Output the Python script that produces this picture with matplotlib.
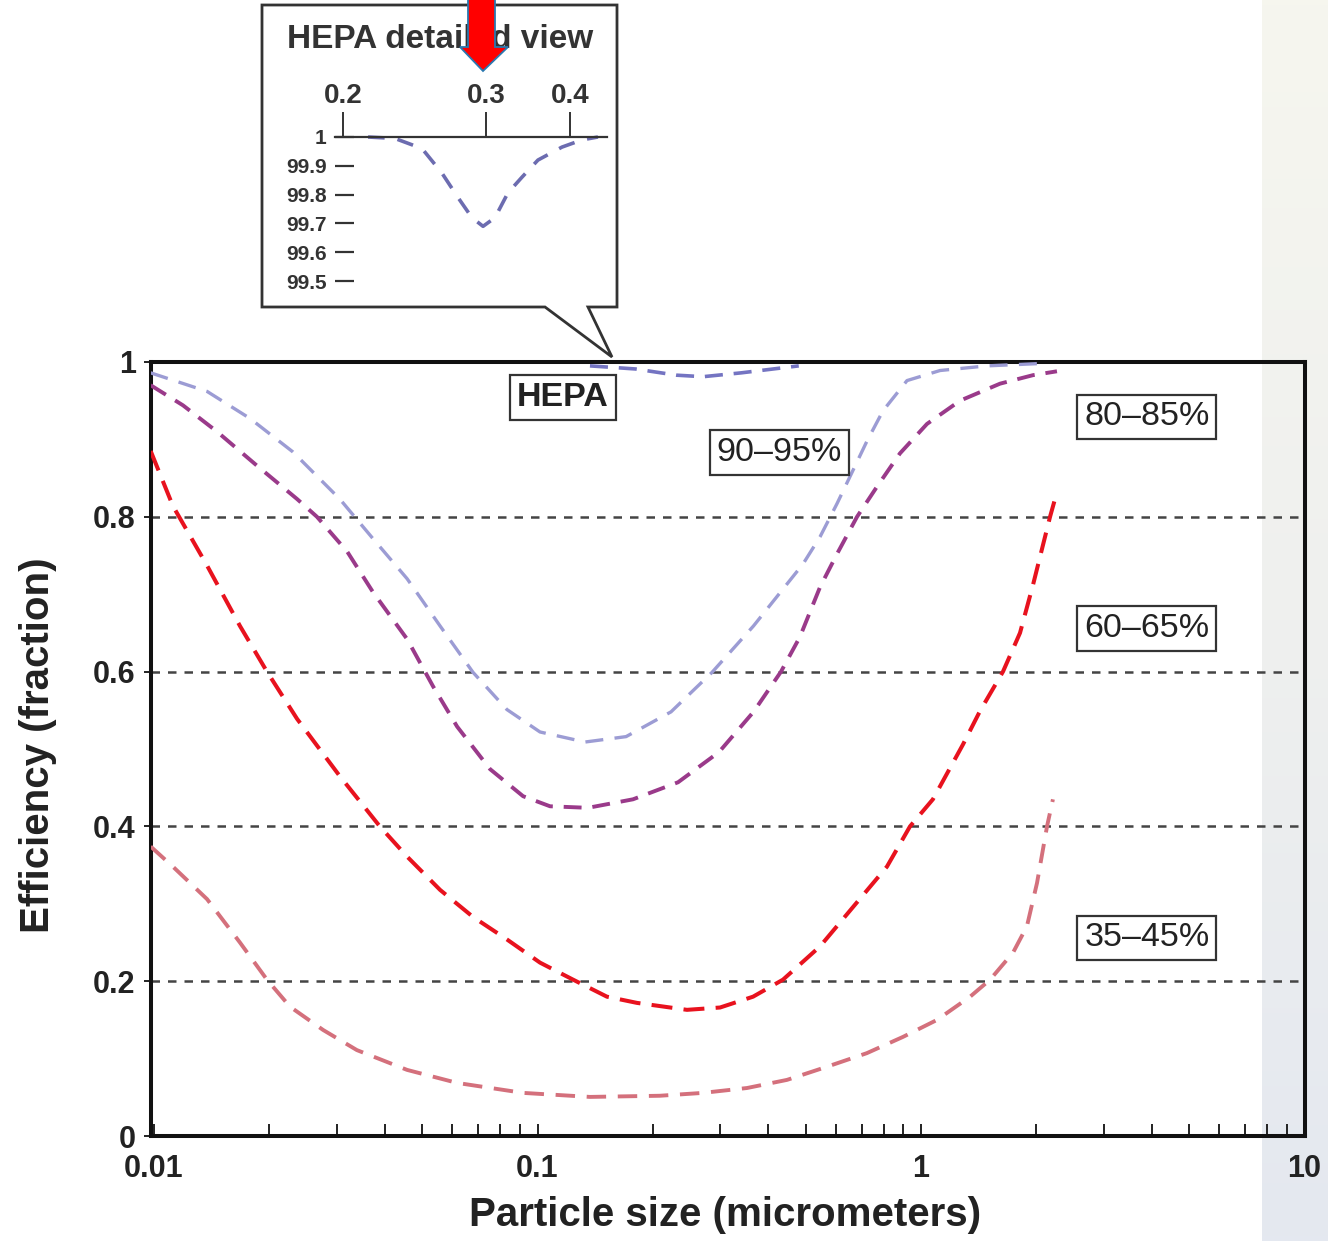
import numpy as np
import matplotlib
matplotlib.use("Agg")
import matplotlib.pyplot as plt
from matplotlib.patches import Polygon
from matplotlib.ticker import LogLocator, NullFormatter
from matplotlib.colors import LinearSegmentedColormap

plt.rcParams['font.family'] = ['Liberation Sans', 'DejaVu Sans']

# ---------------- data ----------------
hepa_x = [0.137, 0.18, 0.23, 0.27, 0.34, 0.48]
hepa_y = [0.995, 0.991, 0.983, 0.981, 0.986, 0.995]

f9095_x = [0.0098, 0.01375, 0.0178, 0.0230, 0.0305, 0.0372, 0.0457, 0.0557, 0.0679, 0.0832,
           0.1015, 0.1330, 0.1702, 0.2229, 0.2851, 0.3658, 0.4923, 0.5452, 0.6039, 0.6646,
           0.7232, 0.7960, 0.9194, 1.121, 1.486, 2.043]
f9095_y = [0.986, 0.962, 0.927, 0.884, 0.823, 0.772, 0.72, 0.659, 0.599, 0.551,
           0.522, 0.509, 0.516, 0.548, 0.599, 0.659, 0.739, 0.774, 0.817, 0.86,
           0.898, 0.937, 0.976, 0.989, 0.995, 0.998]

f8085_x = [0.0098, 0.0119, 0.0146, 0.01856, 0.0236, 0.0266, 0.0319, 0.0372, 0.0457, 0.0534,
           0.0617, 0.0752, 0.0917, 0.1078, 0.1354, 0.1774, 0.2325, 0.2973, 0.3658, 0.4315,
           0.4835, 0.5452, 0.6039, 0.6810, 0.7679, 0.8815, 1.0366, 1.2637, 1.607, 1.959,
           2.262]
f8085_y = [0.970, 0.944, 0.910, 0.866, 0.823, 0.80, 0.755, 0.703, 0.642, 0.581,
           0.529, 0.474, 0.439, 0.426, 0.424, 0.435, 0.457, 0.496, 0.548, 0.60,
           0.645, 0.709, 0.752, 0.80, 0.839, 0.882, 0.920, 0.950, 0.972, 0.983,
           0.988]

f6065_x = [0.0098, 0.0112, 0.01375, 0.01675, 0.0197, 0.0236, 0.0305, 0.0388, 0.0457, 0.0557,
           0.0679, 0.0832, 0.1015, 0.1238, 0.1517, 0.1816, 0.2453, 0.2992, 0.3648, 0.4366,
           0.5454, 0.6653, 0.815, 0.936, 1.074, 1.287, 1.425, 1.636, 1.812, 1.959,
           2.170, 2.262]
f6065_y = [0.885, 0.814, 0.737, 0.659, 0.60, 0.539, 0.465, 0.40, 0.361, 0.318,
           0.283, 0.254, 0.224, 0.202, 0.18, 0.172, 0.163, 0.166, 0.18, 0.202,
           0.245, 0.296, 0.348, 0.40, 0.435, 0.506, 0.549, 0.60, 0.650, 0.712,
           0.80, 0.832]

f3545_x = [0.0098, 0.0112, 0.01375, 0.01675, 0.0197, 0.02263, 0.0276, 0.0338, 0.0457, 0.0617,
           0.0917, 0.137, 0.2085, 0.270, 0.3518, 0.4473, 0.567, 0.722, 0.897, 1.101,
           1.343, 1.514, 1.738, 1.889, 2.007, 2.131, 2.208]
f3545_y = [0.374, 0.348, 0.306, 0.25, 0.202, 0.167, 0.137, 0.111, 0.0854, 0.0686,
           0.0557, 0.0505, 0.052, 0.0557, 0.062, 0.0725, 0.0893, 0.107, 0.128, 0.150,
           0.18, 0.202, 0.237, 0.271, 0.327, 0.40, 0.435]

# HEPA detailed view (percent)
ins_x = [0.2129, 0.2286, 0.2466, 0.2614, 0.2745, 0.2867, 0.297, 0.3087, 0.3222, 0.3377,
         0.357, 0.3887, 0.4181, 0.4436]
ins_y = [100.0, 99.995, 99.96, 99.875, 99.79, 99.72, 99.69, 99.72, 99.806, 99.86,
         99.92, 99.965, 99.99, 100.0]

x_ticks = [0.01, 0.1, 1, 10]
x_ticklabels = ['0.01', '0.1', '1', '10']
y_ticks = [0, 0.2, 0.4, 0.6, 0.8, 1]
y_ticklabels = ['0', '0.2', '0.4', '0.6', '0.8', '1']
ins_xticks = [0.2, 0.3, 0.4]
ins_xticklabels = ['0.2', '0.3', '0.4']
ins_yticks = [99.5, 99.6, 99.7, 99.8, 99.9, 100.0]
ins_yticklabels = ['99.5', '99.6', '99.7', '99.8', '99.9', '1']

labels = [
    ('HEPA', 0.1165, 0.954, 'bold'),
    ('90\u201395%', 0.4264, 0.883, 'normal'),
    ('80\u201385%', 3.88, 0.929, 'normal'),
    ('60\u201365%', 3.88, 0.656, 'normal'),
    ('35\u201345%', 3.88, 0.256, 'normal'),
]

# ---------------- figure ----------------
W, H = 1328, 1241
fig = plt.figure(figsize=(W / 100, H / 100), dpi=100)
fig.patch.set_facecolor('white')


def fx(x):
    return x / W


def fy(y):
    return 1 - y / H


# light strip on the right
strip = fig.add_axes([fx(1262), 0, (W - 1262) / W, 1], zorder=-5)
grad = np.linspace(0, 1, 256).reshape(-1, 1)
cm = LinearSegmentedColormap.from_list('s', ['#f6f6ee', '#eff0ee', '#e4e8f0'])
strip.imshow(grad, aspect='auto', cmap=cm, extent=[0, 1, 1, 0])
strip.set_axis_off()

ax = fig.add_axes([fx(151), fy(1136), (1305 - 151) / W, (1136 - 362) / H], zorder=1)
ax.set_facecolor('none')
ax.set_xscale('log')
ax.set_xlim(0.00982, 10.03)
ax.set_ylim(0, 1)

ax.plot(f3545_x, f3545_y, color='#d4707c', lw=2.8, linestyle=(0, (5.0, 3.0)), zorder=3)
ax.plot(f6065_x, f6065_y, color='#e8121e', lw=2.9, linestyle=(0, (5.2, 2.8)), zorder=3)
ax.plot(f8085_x, f8085_y, color='#9a3a8a', lw=2.8, linestyle=(0, (4.6, 2.8)), zorder=3)
ax.plot(f9095_x, f9095_y, color='#9c9cd4', lw=2.4, linestyle=(0, (5.4, 3.4)), zorder=3)
ax.plot(hepa_x, hepa_y, color='#7474c2', lw=2.6, linestyle=(0, (5.0, 3.0)), zorder=3,
        clip_on=False)

ax.grid(axis='y', color='#444444', lw=1.8, linestyle=(0, (3.4, 3.2)))
ax.grid(axis='x', visible=False)

for s in ax.spines.values():
    s.set_linewidth(2.9)
    s.set_color('#111111')

ax.set_xticks(x_ticks)
ax.set_xticklabels(x_ticklabels)
ax.xaxis.set_minor_locator(LogLocator(base=10, subs=range(2, 10)))
ax.xaxis.set_minor_formatter(NullFormatter())
ax.tick_params(axis='x', which='both', direction='in', length=9, width=1.4,
               color='#222222', pad=13)
ax.tick_params(axis='x', which='major', labelsize=22)
ax.set_yticks(y_ticks)
ax.set_yticklabels(y_ticklabels)
ax.tick_params(axis='y', direction='out', length=5, width=1.4, color='#222222',
               labelsize=22, pad=6)
for t in ax.get_xticklabels() + ax.get_yticklabels():
    t.set_fontweight('bold')
    t.set_color('#222222')

for txt, lx, ly, wt in labels:
    ax.text(lx, ly, txt, ha='center', va='center', fontsize=24.5, fontweight=wt,
            color='#222222', zorder=5,
            bbox=dict(boxstyle='square,pad=0.2', facecolor='white',
                      edgecolor='#333333', linewidth=1.6))

fig.text(fx(725), fy(1215), 'Particle size (micrometers)', ha='center', va='center',
         fontsize=29, fontweight='bold', color='#222222')
fig.text(fx(38), fy(745), 'Efficiency (fraction)', ha='center', va='center',
         rotation=90, fontsize=29, fontweight='bold', color='#222222')

# callout box
callout = [(262, 5), (617, 5), (617, 307), (588, 307), (612, 357), (545, 307), (262, 307)]
fig.patches.append(Polygon([(fx(a), fy(b)) for a, b in callout], closed=True,
                           transform=fig.transFigure, facecolor='white',
                           edgecolor='#333333', linewidth=2.0, zorder=4))

fig.text(fx(440), fy(40), 'HEPA detailed view', ha='center', va='center',
         fontsize=24, fontweight='bold', color='#333333', zorder=6)

# inset
ins = fig.add_axes([fx(335), fy(290), (607 - 335) / W, (290 - 137) / H], zorder=6)
ins.set_facecolor('none')
ins.set_xscale('function', functions=(lambda v: np.log(np.clip(v - 0.1, 1e-6, None)),
                                      lambda u: np.exp(u) + 0.1))
ins.set_xlim(0.1962, 0.459)
ins.set_ylim(99.469, 100.0)
ins.plot(ins_x, ins_y, color='#6c6cb0', lw=2.6, linestyle=(0, (4.6, 3.6)), clip_on=False)
for k in ['left', 'right', 'bottom']:
    ins.spines[k].set_visible(False)
ins.spines['top'].set_linewidth(1.6)
ins.spines['top'].set_color('#333333')
ins.xaxis.set_ticks_position('top')
ins.set_xticks(ins_xticks)
ins.set_xticklabels(ins_xticklabels)
ins.xaxis.set_minor_locator(plt.NullLocator())
ins.tick_params(axis='x', which='major', direction='out', length=18, width=1.4,
                color='#333333', labelsize=20, pad=2)
ins.set_yticks(ins_yticks)
ins.set_yticklabels(ins_yticklabels)
ins.tick_params(axis='y', direction='in', length=13.5, width=1.6, color='#333333',
                labelsize=15, pad=6)
for t in ins.get_xticklabels() + ins.get_yticklabels():
    t.set_fontweight('bold')
    t.set_color('#333333')

# red arrow
arrow = [(468, -3), (495, -3), (495, 47), (508, 47), (483, 71), (460, 47), (468, 47)]
fig.patches.append(Polygon([(fx(a), fy(b)) for a, b in arrow], closed=True,
                           transform=fig.transFigure, facecolor='#ff0000',
                           edgecolor='#2a78b0', linewidth=1.3, zorder=10))

fig.savefig('out.png', dpi=100)
